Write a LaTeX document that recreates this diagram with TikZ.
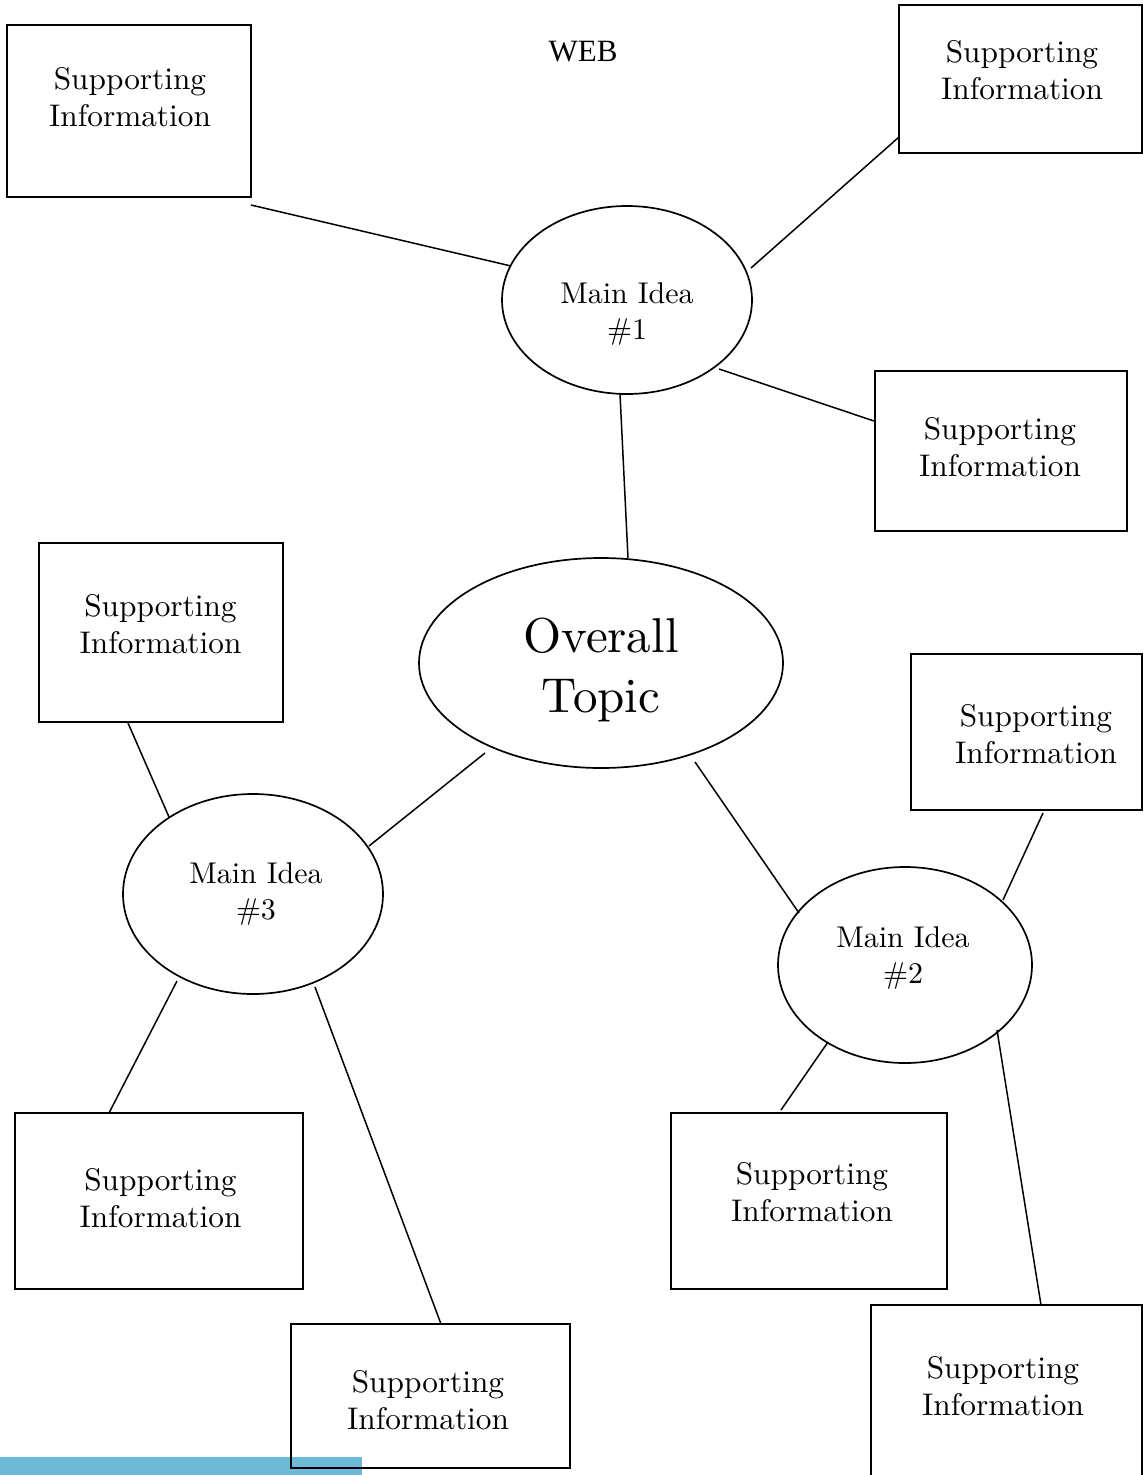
\documentclass[tikz,border=0pt]{standalone}
\usepackage{fontspec}
\newfontfamily\webfont{Liberation Serif}
\newfontfamily\lmten{lmroman10-regular.otf}
\usetikzlibrary{shapes.geometric,calc}
\definecolor{bluebar}{RGB}{111,185,216}
\tikzset{
  sbox/.style={draw, rectangle, line width=2.4pt, inner sep=0pt},
  sboxthin/.style={sbox, line width=1.8pt},
  ell/.style={draw, ellipse, line width=1.7pt, inner sep=0pt},
  conn/.style={line width=1.5pt},
  stxt/.style={align=center, inner sep=0pt, font=\lmten\fontsize{31.3}{37}\selectfont},
  mtxt/.style={align=center, inner sep=0pt, font=\lmten\fontsize{30}{36}\selectfont},
  otxt/.style={align=center, inner sep=0pt, font=\lmten\fontsize{49}{60}\selectfont},
  webtxt/.style={inner sep=0pt, font=\webfont\fontsize{31}{37}\selectfont}
}
\begin{document}
\begin{tikzpicture}[x=1pt,y=-1pt]
\useasboundingbox (0,0) rectangle (1143,1475);
\clip (0,0) rectangle (1143,1475);
\fill[bluebar] (0,1457) rectangle (362,1475);

\node[webtxt, anchor=base] (web) at (583,61) {WEB};

% boxes
\node[sbox, minimum width=244, minimum height=172] (tl) at (129,111) {};
\node[sbox, minimum width=243, minimum height=148] (tr) at (1020.5,79) {};
\node[sbox, minimum width=252, minimum height=160] (r1) at (1001,451) {};
\node[sboxthin, minimum width=244, minimum height=179] (l2) at (161,632.5) {};
\node[sboxthin, minimum width=231, minimum height=156] (r2) at (1026.5,732) {};
\node[sbox, minimum width=288, minimum height=176] (bl) at (159,1201) {};
\node[sbox, minimum width=279, minimum height=144] (bm) at (430.5,1396) {};
\node[sbox, minimum width=276, minimum height=176] (br2) at (809,1201) {};
\node[sbox, minimum width=271, minimum height=185] (br) at (1006.5,1397.5) {};

% box texts
\node[stxt] (tlt) at (130,97.5) {Supporting\\Information};
\node[stxt] (trt) at (1022,70.5) {Supporting\\Information};
\node[stxt] (r1t) at (1000,447.5) {Supporting\\Information};
\node[stxt] (l2t) at (160.5,624.5) {Supporting\\Information};
\node[stxt] (r2t) at (1036,734.5) {Supporting\\Information};
\node[stxt] (blt) at (160.5,1198.5) {Supporting\\Information};
\node[stxt] (bmt) at (428,1400.5) {Supporting\\Information};
\node[stxt] (br2t) at (812,1192.5) {Supporting\\Information};
\node[stxt] (brt) at (1003,1386.5) {Supporting\\Information};

% ellipses
\node[ell, minimum width=250, minimum height=188] (mi1) at (627,300) {};
\node[ell, minimum width=364, minimum height=210] (ov) at (601,663) {};
\node[ell, minimum width=260, minimum height=200] (mi3) at (253,894) {};
\node[ell, minimum width=254, minimum height=196] (mi2) at (905,965) {};

\node[mtxt] (mi1t) at (627,313.5) {Main Idea\\\#1};
\node[mtxt] (mi3t) at (256,893.5) {Main Idea\\\#3};
\node[mtxt] (mi2t) at (903,957.5) {Main Idea\\\#2};
\node[otxt] (ovt) at (601,669.5) {Overall\\Topic};

% connectors
\draw[conn] ($(tl)+(122,94)$) -- ($(mi1)+(-116,-34)$);
\draw[conn] ($(tr)+(-121.5,58)$) -- ($(mi1)+(124,-32)$);
\draw[conn] ($(mi1)+(92,69)$) -- ($(r1)+(-127,-30)$);
\draw[conn] ($(mi1)+(-7,94)$) -- ($(ov)+(27,-105)$);
\draw[conn] ($(l2)+(-33,90.5)$) -- ($(mi3)+(-84,-77)$);
\draw[conn] ($(ov)+(-116,90)$) -- ($(mi3)+(116,-48)$);
\draw[conn] ($(ov)+(94,99)$) -- ($(mi2)+(-106,-52)$);
\draw[conn] ($(r2)+(16.5,81)$) -- ($(mi2)+(98,-65)$);
\draw[conn] ($(mi3)+(-76,87)$) -- ($(bl)+(-50,-88)$);
\draw[conn] ($(mi3)+(62,93)$) -- ($(bm)+(10.5,-72)$);
\draw[conn] ($(mi2)+(-77,77)$) -- ($(br2)+(-28,-91)$);
\draw[conn] ($(mi2)+(92,65)$) -- ($(br)+(34.5,-92.5)$);
\end{tikzpicture}
\end{document}
